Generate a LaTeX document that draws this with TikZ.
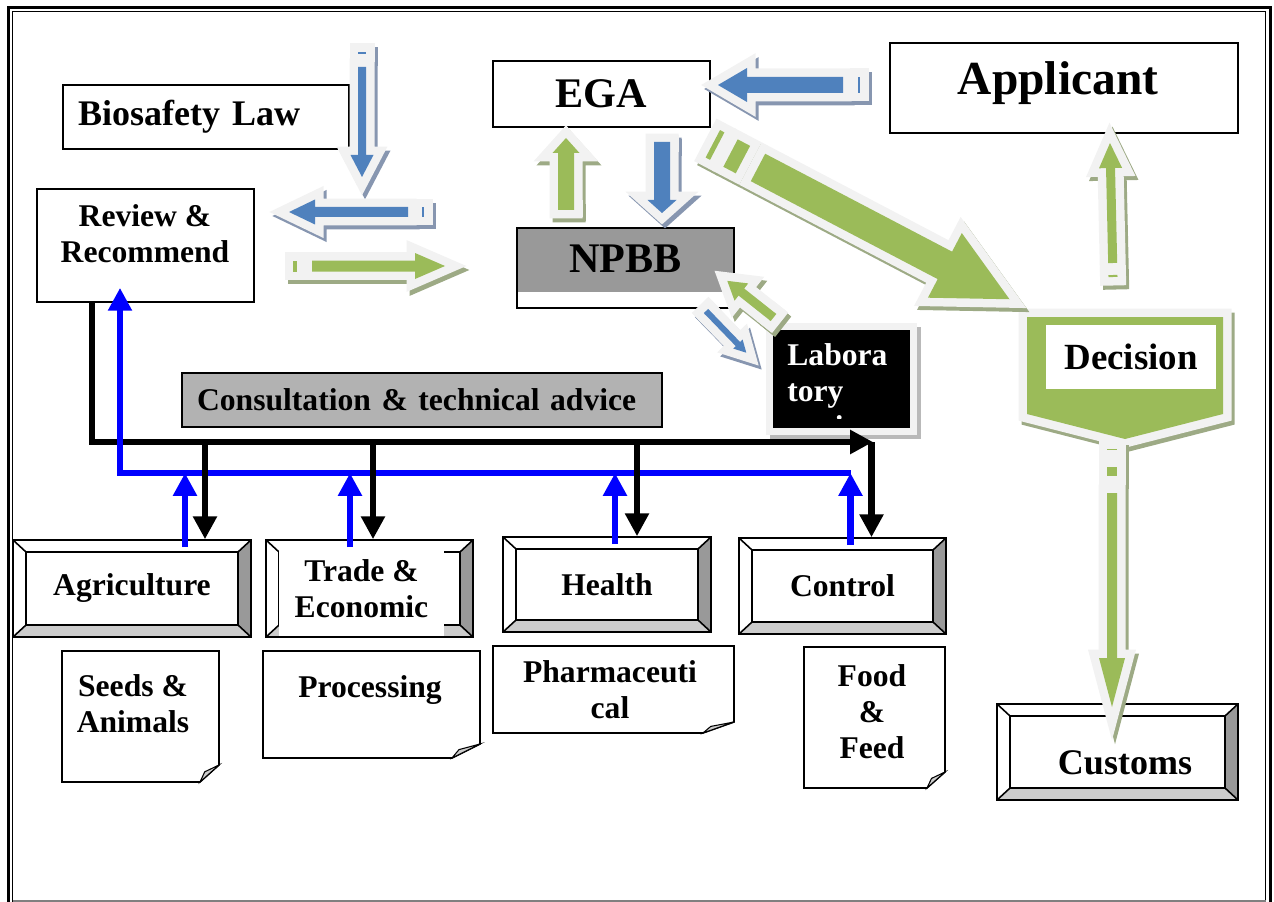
\documentclass[tikz,border=0pt]{standalone}
\usepackage{fontspec}
\setmainfont{Liberation Serif}
\usetikzlibrary{arrows.meta,calc}

\definecolor{egblue}{HTML}{4F81BD}
\definecolor{egbluesh}{HTML}{8796B0}
\definecolor{eggreen}{HTML}{9BBB59}
\definecolor{eggreensh}{HTML}{9DAA85}
\definecolor{rimgray}{HTML}{F2F2F2}
\definecolor{npbbgray}{HTML}{999999}
\definecolor{consultgray}{HTML}{B2B2B2}
\definecolor{bevdark}{HTML}{999999}
\definecolor{bevlight}{HTML}{CCCCCC}
\definecolor{linkblue}{HTML}{0000FF}

\tikzset{
  txt/.style={font=\fontsize{18}{20.5}\selectfont\bfseries, align=center, inner sep=0pt},
  plainbox/.style={draw, line width=1pt, fill=white, inner sep=0pt},
  rim/.style={draw=rimgray, fill=rimgray, line width=0.34cm},
  arrshadow/.style={draw=#1, fill=#1, line width=0.34cm},
  bevel/.style={draw, line width=0.9pt, fill=white, inner sep=0pt, path picture={
      \coordinate (pnw) at (path picture bounding box.north west);
      \coordinate (pse) at (path picture bounding box.south east);
      \fill[bevlight] (pnw |- pse) -- (pse) -- ++(-13,-12) -- ($(pnw |- pse)+(13,-12)$) -- cycle;
      \fill[bevdark] (pnw -| pse) -- (pse) -- ++(-13,-12) -- ($(pnw -| pse)+(-13,12)$) -- cycle;
      \draw[line width=0.9pt] ($(pnw)+(13,12)$) rectangle ($(pse)+(-13,-12)$);
      \draw[line width=0.9pt] (pnw) -- ++(13,12) (pnw -| pse) -- ++(-13,12)
        (pse) -- ++(-13,-12) (pnw |- pse) -- ++(13,-12);
  }},
  blklink/.style={line width=3.7pt, -{Triangle[width=13pt,length=13pt]}},
  blulink/.style={line width=3.7pt, linkblue, -{Triangle[width=13pt,length=13pt]}},
}

\newcommand{\blockarrow}[9]{%
  \begin{scope}[shift={#1},shift={(3,4)},rotate=#2]
    \path[arrshadow=#8sh] (#3,-#6) -- (#4-#5,-#6) -- (#4-#5,-#7) -- (#4,0) -- (#4-#5,#7) -- (#4-#5,#6) -- (#3,#6) -- cycle;
    \foreach \a/\b in {#9} {\path[arrshadow=#8sh] (\a,-#6) rectangle (\b,#6);}
  \end{scope}
  \begin{scope}[shift={#1},rotate=#2]
    \path[rim] (#3,-#6) -- (#4-#5,-#6) -- (#4-#5,-#7) -- (#4,0) -- (#4-#5,#7) -- (#4-#5,#6) -- (#3,#6) -- cycle;
    \foreach \a/\b in {#9} {\path[rim] (\a,-#6) rectangle (\b,#6);}
    \fill[#8] (#3,-#6) -- (#4-#5,-#6) -- (#4-#5,-#7) -- (#4,0) -- (#4-#5,#7) -- (#4-#5,#6) -- (#3,#6) -- cycle;
    \foreach \a/\b in {#9} {\fill[#8] (\a,-#6) rectangle (\b,#6);}
  \end{scope}
}

\newcommand{\foldnote}[6]{%
  \draw[line width=0.9pt, fill=white] (#1,#2) -- (#3,#2) -- (#3,#4-#6) -- (#3-#5,#4) -- (#1,#4) -- cycle;
  \filldraw[fill=bevlight, line width=0.6pt] (#3,#4-#6) -- (#3-#5,#4) -- (#3-0.75*#5,#4-0.6*#6) -- cycle;
}

\begin{document}
\begin{tikzpicture}[x=0.02cm, y=-0.02cm]
\useasboundingbox (0,0) rectangle (1274,902);

\draw[line width=1.7pt] (8.5,905) -- (8.5,7.5) -- (1270.5,7.5) -- (1270.5,905);
\draw[line width=0.8pt] (12.7,905) -- (12.7,11.8) -- (1265.5,11.8) -- (1265.5,905);
\draw[gray, line width=0.6pt] (12.7,901) -- (1265.5,901);

\node[plainbox, minimum width=5.72cm, minimum height=1.28cm, text width=5.12cm, align=left, font=\fontsize{20.5}{24}\selectfont\bfseries] (biolaw) at (206,117) {Biosafety Law};
\node[plainbox, minimum width=4.34cm, minimum height=2.26cm] (review) at (145.5,245.5) {};
\node[txt] (reviewtxt) at (145,234) {Review \&\\Recommend};
\node[plainbox, minimum width=4.34cm, minimum height=1.32cm, font=\fontsize{24}{28}\selectfont\bfseries] (ega) at (601.5,94) {EGA};
\node[plainbox, minimum width=6.96cm, minimum height=1.8cm] (applicant) at (1064,88) {};
\node[anchor=base, inner sep=0pt, font=\fontsize{27}{32}\selectfont\bfseries] (applicanttxt) at (1058,95) {Applicant};
\node[plainbox, minimum width=4.34cm, minimum height=1.6cm, path picture={\fill[npbbgray] (path picture bounding box.north west) rectangle ($(path picture bounding box.south east)+(0,-16)$);}] (npbb) at (625.5,268) {};
\node[anchor=base, inner sep=0pt, font=\fontsize{24}{28}\selectfont\bfseries] (npbbtxt) at (625.5,273) {NPBB};
\node[txt, draw, line width=1pt, fill=consultgray, minimum width=9.6cm, minimum height=1.08cm, text width=9cm, align=left] (consult) at (422,400) {Consultation \& technical advice};

\path[arrshadow=eggreensh, shift={(3,4)}] (1027,317) -- (1223,317) -- (1223,414) -- (1125,439) -- (1027,414) -- cycle;
\path[rim] (1027,317) -- (1223,317) -- (1223,414) -- (1125,439) -- (1027,414) -- cycle;
\fill[eggreen] (1027,317) -- (1223,317) -- (1223,414) -- (1125,439) -- (1027,414) -- cycle;
\node[fill=white, minimum width=3.4cm, minimum height=1.28cm, inner sep=0pt, font=\fontsize{21}{25}\selectfont\bfseries] (decision) at (1131,357) {Decision};

\path[arrshadow=gray!55, line width=0.28cm, shift={(4,4)}] (773,330) rectangle (910,428);
\path[rim, line width=0.28cm] (773,330) rectangle (910,428);
\node[fill=black, minimum width=2.74cm, minimum height=1.96cm, inner sep=0pt] (lab) at (841.5,379) {};
\begin{scope}
  \clip (773,330) rectangle (910,418);
  \node[txt, text=white, align=left, anchor=north west] (labtxt) at (787,343) {Labora\\tory\\testing};
\end{scope}

\node[bevel, txt, minimum width=4.76cm, minimum height=1.94cm] (agri) at (132,588.5) {Agriculture};
\node[bevel, minimum width=4.14cm, minimum height=1.94cm] (trade) at (369.5,588.5) {};
\node[txt, fill=white, minimum width=3.3cm, minimum height=1.9cm] (tradetxt) at (361.5,588.5) {Trade \&\\Economic};
\node[bevel, txt, minimum width=4.16cm, minimum height=1.9cm] (health) at (607,584.5) {Health};
\node[bevel, txt, minimum width=4.14cm, minimum height=1.92cm] (control) at (842.5,586) {Control};
\node[bevel, minimum width=4.82cm, minimum height=1.92cm] (customs) at (1117.5,752) {};
\node[anchor=base, inner sep=0pt, font=\fontsize{20.5}{24}\selectfont\bfseries] (customstxt) at (1125,774) {Customs};

\foldnote{62}{651}{219}{782}{19}{17}
\foldnote{263}{651}{480}{758}{28}{14}
\foldnote{493}{646}{734}{733}{31}{11}
\foldnote{804}{647}{945}{788}{18}{16}
\node[txt] (seeds) at (133,704) {Seeds \&\\Animals};
\node[txt] (processing) at (370,690) {Processing};
\node[txt] (pharma) at (610,690) {Pharmaceuti\\cal};
\node[txt] (foodfeed) at (872,712) {Food\\\&\\Feed};

\coordinate (bk0) at (92,442);
\coordinate (bkend) at (873,442);
\coordinate (bk1) at (205,442);
\coordinate (bk2) at (373,442);
\coordinate (bk3) at (637,442);
\coordinate (bk4) at (871.5,442);
\coordinate (bl0) at (120,473);
\coordinate (bl1) at (185,473);
\coordinate (bl2) at (350,473);
\coordinate (bl3) at (615,473);
\coordinate (bl4) at (850.5,473);

\draw[blklink] (bk0 |- review.south) -- (bk0) -- (bkend);
\draw[blulink] (bl4) -- (bl0) -- ($(review.south -| bl0)+(0,-15)$);
\draw[blklink] (bk1) -- (bk1 |- agri.north);
\draw[blklink] (bk2) -- (bk2 |- trade.north);
\draw[blklink] (bk3) -- (bk3 |- health.north);
\draw[blklink] (bk4) -- (bk4 |- control.north);
\draw[blulink] ($(bl1 |- agri.north)+(0,8)$) -- (bl1);
\draw[blulink] ($(bl2 |- trade.north)+(0,8)$) -- (bl2);
\draw[blulink] ($(bl3 |- health.north)+(0,8)$) -- (bl3);
\draw[blulink] ($(bl4 |- control.north)+(0,8)$) -- (bl4);

\blockarrow{(362,52)}{-90}{15}{125}{22}{4}{11.5}{egblue}{0/2}
\blockarrow{(424,212)}{180}{16}{135}{26}{5}{12.5}{egblue}{0/2}
\blockarrow{(293,266)}{0}{19}{152}{30}{5.5}{13}{eggreen}{0/4}
\blockarrow{(860,85)}{180}{17}{142}{29}{8}{17}{egblue}{0/2}
\blockarrow{(566,210)}{90}{0}{72}{15}{8}{13.5}{eggreen}{1/2}
\blockarrow{(662,142)}{-90}{0}{71}{13}{8}{14.5}{egblue}{1/2}
\blockarrow{(712.8,143.8)}{-27.65}{51}{335}{73}{15.5}{36.5}{eggreen}{0/5,20/34}
\blockarrow{(1112,449)}{-90}{44}{258}{49}{5}{13}{eggreen}{0/1,18/27}
\blockarrow{(1113,277)}{91.3}{14}{134}{25}{4.5}{11.5}{eggreen}{0/2}
\blockarrow{(706,311)}{-46}{0}{58}{12}{3}{6.5}{egblue}{1/2}
\blockarrow{(773.5,317.5)}{141.6}{0}{59}{18}{4.5}{11}{eggreen}{1/2}
\end{tikzpicture}
\end{document}
